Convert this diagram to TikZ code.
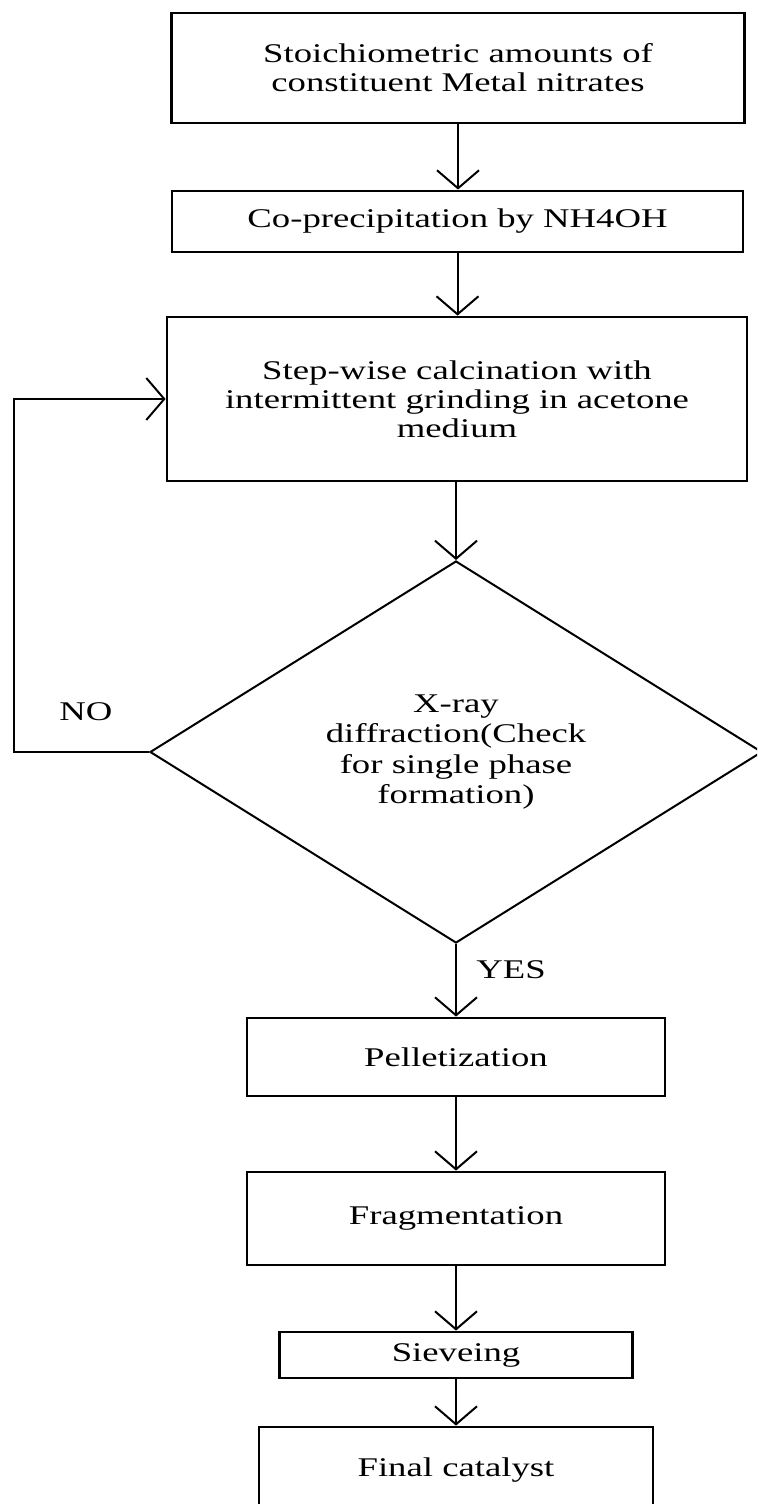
\documentclass[tikz,border=0pt]{standalone}
\usepackage{fontspec}
\setmainfont{Liberation Serif}[FakeStretch=1.36]
\usetikzlibrary{arrows.meta,shapes.geometric}
\begin{document}
\begin{tikzpicture}[x=0.5pt,y=-0.5pt,
  box/.style={draw,line width=1.4pt,inner sep=0pt,align=center,font=\fontsize{13.5}{14.5}\selectfont},
  dec/.style={draw,diamond,aspect=1.6,line width=1pt,inner sep=0pt,align=center,
    font=\fontsize{13.5}{15.3}\selectfont,minimum width=306pt,minimum height=191pt},
  arr/.style={line width=1pt,-{Straight Barb[length=9pt,width=21pt]}},
  lbl/.style={font=\fontsize{13.5}{15}\selectfont,inner sep=0pt}]
\useasboundingbox (0,0) rectangle (757,1504);
\clip (0,0) rectangle (757,1504);
\node[box,minimum width=286.5pt,minimum height=55pt] (b1) at (458,68)
  {Stoichiometric amounts of\\constituent Metal nitrates};
\node[box,minimum width=285.5pt,minimum height=30.5pt] (b2) at (457.5,221.5)
  {Co-precipitation by NH4OH};
\node[box,minimum width=290pt,minimum height=82pt] (b3) at (457,399)
  {Step-wise calcination with\\intermittent grinding in acetone\\medium};
\node[dec] (d) at (456,752)
  {X-ray\\diffraction(Check\\for single phase\\formation)};
\node[box,minimum width=209pt,minimum height=39pt] (p) at (456,1057) {Pelletization};
\node[box,minimum width=209pt,minimum height=46.5pt] (f) at (456,1218.5) {Fragmentation};
\node[box,minimum width=176.5pt,minimum height=23pt] (s) at (456,1355) {Sieveing};
\node[box,minimum width=197pt,minimum height=43pt] (fin) at (456,1470) {Final catalyst};
\coordinate (loopc) at (14,752);
\node[lbl] (no) at (86,712) {NO};
\node[lbl] (yes) at (511,970) {YES};
\draw[arr] (b1.south) -- (b1.south |- b2.north);
\draw[arr] (b2.south) -- (b2.south |- b3.north);
\draw[arr] (b3.south -| d.north) -- (d.north);
\draw[arr] (d.west) -- (loopc) |- (b3.west);
\draw[arr] (d.south) -- (d.south |- p.north);
\draw[arr] (p.south) -- (f.north);
\draw[arr] (f.south) -- (s.north);
\draw[arr] (s.south) -- (fin.north);
\end{tikzpicture}
\end{document}
